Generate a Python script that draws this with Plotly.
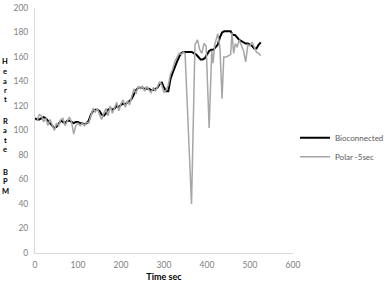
import plotly.graph_objects as go

# ---- data ----
bio_time = [0, 5, 10, 15, 20, 25, 30, 35, 40, 45, 50, 55, 60, 65, 70, 75, 80, 85, 90, 95,
            100, 105, 110, 115, 120, 125, 130, 135, 140, 145, 150, 155, 160, 165, 170, 175,
            180, 185, 190, 195, 200, 205, 210, 215, 220, 225, 230, 235, 240, 245, 250, 255,
            260, 265, 270, 275, 280, 285, 290, 295, 300, 305, 310, 315, 320, 325, 330, 335,
            340, 345, 350, 355, 360, 365, 370, 375, 380, 385, 390, 395, 400, 405, 410, 415,
            420, 425, 430, 435, 440, 445, 450, 455, 460, 465, 470, 475, 480, 485, 490, 495,
            500, 505, 510, 515, 520, 525]
bio_hr = [110, 109, 109, 110, 111, 110, 108, 106, 104, 102, 103, 106, 108, 107, 106, 108, 108, 107, 106, 107,
          107, 106, 106, 105, 106, 108, 113, 116, 117, 117, 116, 113, 112, 114, 117, 118,
          117, 118, 120, 119, 121, 122, 121, 123, 124, 126, 130, 133, 135, 135, 135, 134,
          134, 134, 133, 133, 134, 135, 138, 139, 135, 132, 132, 142, 147, 152, 156, 160,
          163, 164, 164, 164, 164, 164, 163, 162, 160, 158, 158, 159, 162, 165, 166, 166,
          168, 170, 176, 180, 181, 181, 181, 181, 178, 178, 176, 174, 173, 172, 171, 171,
          170, 169, 167, 167, 170, 172]

polar_time = [5, 10, 15, 20, 25, 30, 35, 40, 45, 50, 55, 60, 65, 70, 75, 80, 85, 90, 95,
              100, 105, 110, 115, 120, 125, 130, 135, 140, 145, 150, 155, 160, 165, 170, 175,
              180, 185, 190, 195, 200, 205, 210, 215, 220, 225, 230, 235, 240, 245, 250, 255,
              260, 265, 270, 275, 280, 285, 290, 295, 300, 305, 310, 315, 320, 325, 330, 335,
              340, 345, 349, 364, 372, 378, 383, 388, 393, 398, 405, 411, 414, 418, 425,
              430, 435, 439, 445, 450, 455, 458, 462, 466, 470, 475, 480, 485, 490, 495,
              500, 505, 510, 515, 520, 525]
polar_hr = [108, 113, 112, 107, 110, 104, 109, 105, 100, 106, 104, 109, 110, 104, 108, 111, 107, 97, 104,
            106, 104, 106, 104, 107, 106, 112, 118, 115, 118, 113, 109, 114, 118, 112, 120,
            114, 118, 123, 116, 122, 125, 119, 124, 121, 128, 134, 130, 136, 134, 136, 132,
            136, 133, 131, 135, 132, 136, 140, 137, 131, 133, 137, 146, 150, 156, 160, 163,
            162, 164, 163, 40, 170, 174, 166, 163, 171, 169, 102, 165, 155, 170, 179,
            168, 126, 160, 160, 161, 162, 180, 163, 171, 168, 174, 170, 165, 156, 170,
            169, 172, 168, 164, 163, 161]

x_ticks = [0, 100, 200, 300, 400, 500, 600]
y_ticks = [0, 20, 40, 60, 80, 100, 120, 140, 160, 180, 200]
y_title_letters = ["H", "e", "a", "r", "t", "R", "a", "t", "e", "B", "P", "M"]

# ---- figure ----
fig = go.Figure()
fig.add_trace(go.Scatter(x=bio_time, y=bio_hr, mode="lines", name="Bioconnected",
                         line=dict(color="#000000", width=2)))
fig.add_trace(go.Scatter(x=polar_time, y=polar_hr, mode="lines", name="Polar -5sec",
                         line=dict(color="#a6a6a6", width=1.5)))

font_family = "Lato, Liberation Sans, sans-serif"
tick_font = dict(family=font_family, size=8.5, color="#7f7f7f")

fig.update_layout(
    width=386, height=286,
    margin=dict(l=35, r=93, t=8, b=33, autoexpand=False),
    paper_bgcolor="white", plot_bgcolor="white",
    showlegend=True,
    legend=dict(x=(295 - 35) / 258, y=0.53, xanchor="left", yanchor="top",
                font=dict(family=font_family, size=8, color="#595959"),
                bgcolor="rgba(0,0,0,0)", itemwidth=30, tracegroupgap=0),
    xaxis=dict(range=[0, 600], tickvals=x_ticks, showgrid=False, zeroline=False,
               showline=True, linecolor="#d9d9d9", linewidth=1, ticks="",
               tickfont=tick_font, ticklabelstandoff=4,
               title=dict(text="<b>Time sec</b>", standoff=4,
                          font=dict(family=font_family, size=9, color="#000000"))),
    yaxis=dict(range=[0, 200], tickvals=y_ticks, showgrid=False, zeroline=False,
               showline=True, linecolor="#d9d9d9", linewidth=1, ticks="",
               tickfont=tick_font, ticklabelstandoff=4),
)

# vertical, stacked y-axis title letters
letter_px = [62, 71.5, 81, 90, 99, 121, 130.5, 140, 149.5, 172, 181.5, 191]
for ch, py in zip(y_title_letters, letter_px):
    fig.add_annotation(text="<b>%s</b>" % ch, xref="paper", yref="paper",
                       x=(5 - 35) / 258, y=(253 - py) / 245, showarrow=False,
                       xanchor="center", yanchor="middle",
                       font=dict(family=font_family, size=7.5, color="#000000"))

fig.write_html("out.html")
